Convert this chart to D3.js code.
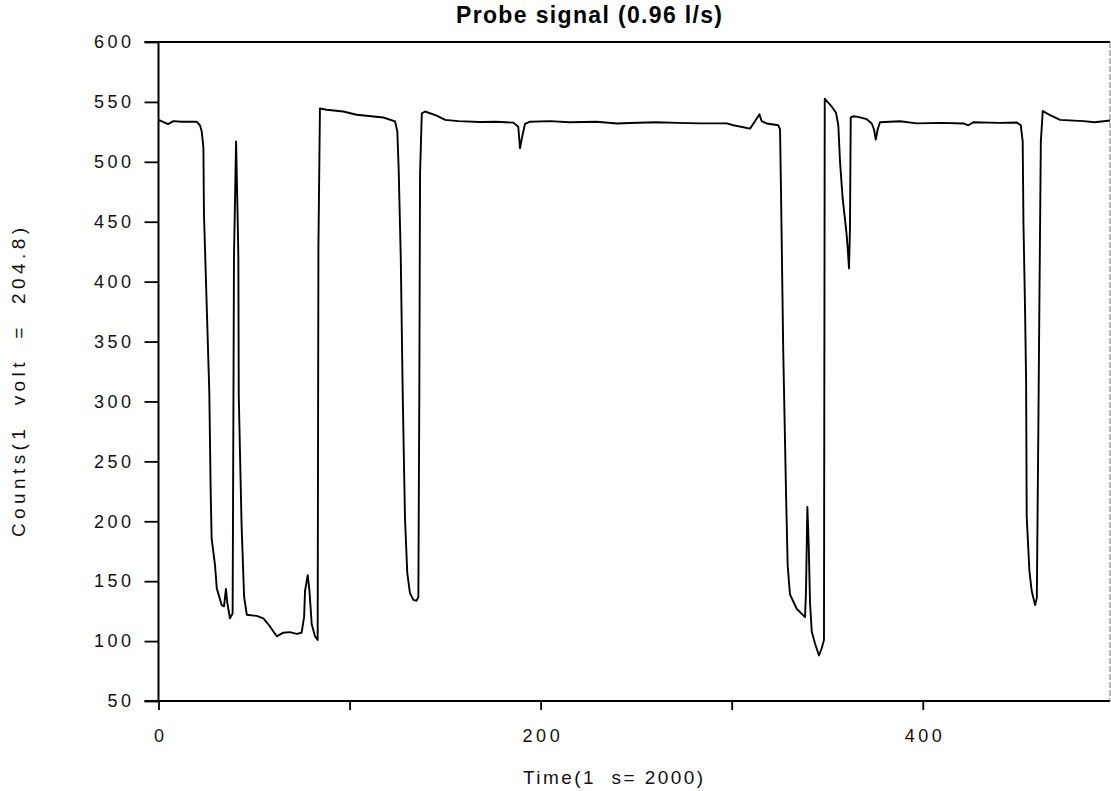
<!DOCTYPE html>
<html>
<head>
<meta charset="utf-8">
<script src="https://cdn.jsdelivr.net/npm/d3@7"></script>
<style>
  body { margin: 0; background: #fff; }
  svg { display: block; font-family: "Liberation Sans", Arial, sans-serif; }
</style>
</head>
<body>
<script>
'use strict';

// time (samples/2000) and counts
let time = [0, 3, 5, 7.8, 12, 16, 20, 21.7, 22.6, 23.5, 23.8, 25.2, 26.6, 27.3, 27.8, 29.6, 30.5, 33.1, 34.3,
  35.3, 36, 37.4, 38.8, 39.5, 40.6, 41.3, 41.8, 42, 43.5, 44.8, 46.2, 51.4, 54.9, 57.5, 61.9, 65.3, 68.8,
  72.3, 74.9, 76.2, 76.7, 78.1, 79, 80.2, 81.9, 83.3, 83.7, 84.5, 88, 96.7, 103.7, 117.7, 123.8, 125, 125.7,
  126.8, 127.8, 129, 130.2, 131.6, 133.4, 135.1, 136, 136.5, 136.9, 137.8, 139.5, 145.6, 150, 157, 168.3,
  177, 185.7, 188.3, 189.2, 190.1, 191.8, 194.5, 205, 215, 229.4, 240, 246.8, 260, 272, 283.4, 297.4, 300.9,
  309.6, 312.2, 314.5, 315.7, 318.3, 324.4, 325.3, 325.8, 327, 328.5, 329.3, 330.5, 334, 338.4, 338.9, 339.6,
  340.3, 341, 341.9, 343.6, 345.7, 347.1, 348.3, 348.7, 352.4, 354.6, 355.8, 356.7, 358.1, 359.3, 360.2,
  360.7, 361.4, 361.9, 362.3, 363.7, 366, 370.7, 373.3, 374.5, 375.4, 376.4, 377.6, 388.1, 396.9, 410,
  421.3, 423.9, 426.5, 440, 449.2, 451.3, 452.3, 452.7, 453.5, 454.1, 454.4, 455.8, 457, 458.8, 459.7,
  460.5, 461, 461.8, 462.8, 466.6, 471.9, 484.1, 490, 498];

let counts = [535, 533, 531.5, 534, 533.5, 533.5, 533.5, 530.5, 525.5, 512, 456, 382, 307, 226, 186, 163, 144, 130, 129,
  143.6, 132, 119, 123, 420, 517, 463, 420, 305, 196, 137, 122, 121, 119, 114, 104, 107, 107.5,
  106, 107, 120, 142, 155, 142, 114, 104, 101, 430, 544.5, 543.5, 542, 539.3, 537, 533.7, 525.5, 494,
  420, 308, 203, 157, 140, 134.4, 133.7, 137, 305, 491, 540.3, 542, 538.6, 535, 534, 533.2,
  533.5, 532.7, 529.3, 511.3, 519, 531.6, 533.5, 534, 533, 533.5, 532, 532.4, 533, 532.5, 532.1, 532.1, 530.5,
  527.7, 533.9, 539.6, 533.9, 532, 530.5, 527, 476, 340, 219, 163, 139, 127, 120, 142, 212,
  181, 132, 108, 98, 88, 94, 101, 552.6, 546, 541, 530.5, 500, 469, 452, 438.5,
  428, 411, 444, 537, 538, 537.5, 535.6, 532, 527, 518.5, 527, 533, 533.9, 532.1, 532.5,
  532, 530.5, 533, 532.5, 532.8, 530.5, 517, 449, 381, 316, 204, 159, 142, 130, 136,
  278, 374, 517, 542.4, 539, 535, 534, 533, 534.5];

let yTicks = [50, 100, 150, 200, 250, 300, 350, 400, 450, 500, 550, 600];
let xTicks = [0, 100, 200, 300, 400];
let xTickLabels = ["0", "", "200", "", "400"];

let width = 1111,
    height = 791,
    plotL = 158.5, plotR = 1110, plotT = 42, plotB = 701;

let svg = d3.select("body").append("svg")
    .attr("width", width)
    .attr("height", height);

let x = d3.scaleLinear().domain([0, 498]).range([plotL, plotR]);
let y = d3.scaleLinear().domain([50, 600]).range([plotB, plotT]);

// y axis ticks + labels
let yAxis = svg.append("g")
    .attr("transform", `translate(${plotL},0)`)
    .call(d3.axisLeft(y).tickValues(yTicks).tickSize(14).tickSizeOuter(0).tickPadding(10));
yAxis.select(".domain").remove();
yAxis.selectAll("line").attr("stroke", "#000").attr("stroke-width", 1.8);
yAxis.selectAll("text")
    .style("font-size", "18px")
    .style("letter-spacing", "3.5px")
    .attr("fill", "#111");

// x axis ticks + labels
let xAxis = svg.append("g")
    .attr("transform", `translate(0,${plotB})`)
    .call(d3.axisBottom(x).tickValues(xTicks).tickSize(9).tickSizeOuter(0)
      .tickFormat((d, i) => xTickLabels[i]));
xAxis.select(".domain").remove();
xAxis.selectAll("line").attr("stroke", "#000").attr("stroke-width", 1.8);
xAxis.selectAll("text")
    .attr("y", 41)
    .attr("dy", 0)
    .attr("dx", 1.75)
    .style("font-size", "18px")
    .style("letter-spacing", "3.5px")
    .attr("fill", "#111");

// frame
svg.append("line").attr("x1", plotL).attr("x2", plotL).attr("y1", plotT).attr("y2", plotB)
    .attr("stroke", "#000").attr("stroke-width", 2);
svg.append("line").attr("x1", plotL - 14).attr("x2", plotR).attr("y1", plotT).attr("y2", plotT)
    .attr("stroke", "#000").attr("stroke-width", 2);
svg.append("line").attr("x1", plotL - 14).attr("x2", plotR).attr("y1", plotB).attr("y2", plotB)
    .attr("stroke", "#000").attr("stroke-width", 1.8);
svg.append("line").attr("x1", plotR).attr("x2", plotR).attr("y1", plotT).attr("y2", plotB)
    .attr("stroke", "#777").attr("stroke-width", 1)
    .attr("stroke-dasharray", "6,2");

// signal trace
let line = d3.line()
    .x((d, i) => x(time[i]))
    .y(d => y(d));

svg.append("path")
    .datum(counts)
    .attr("fill", "none")
    .attr("stroke", "#000")
    .attr("stroke-width", 1.9)
    .attr("stroke-linejoin", "round")
    .attr("d", line);

// titles
svg.append("text")
    .attr("x", 456).attr("y", 23)
    .attr("textLength", 266).attr("lengthAdjust", "spacing")
    .style("font-size", "23px")
    .style("font-weight", "bold")
    .text("Probe signal (0.96 l/s)");

svg.append("text")
    .attr("x", 523).attr("y", 784)
    .attr("textLength", 180).attr("lengthAdjust", "spacing")
    .style("font-size", "19px")
    .style("white-space", "pre")
    .attr("fill", "#111")
    .text("Time(1  s= 2000)");

svg.append("text")
    .attr("transform", "translate(25,537) rotate(-90)")
    .attr("textLength", 309).attr("lengthAdjust", "spacing")
    .style("font-size", "19px")
    .style("white-space", "pre")
    .attr("fill", "#111")
    .text("Counts(1  volt  =  204.8)");
</script>
</body>
</html>
